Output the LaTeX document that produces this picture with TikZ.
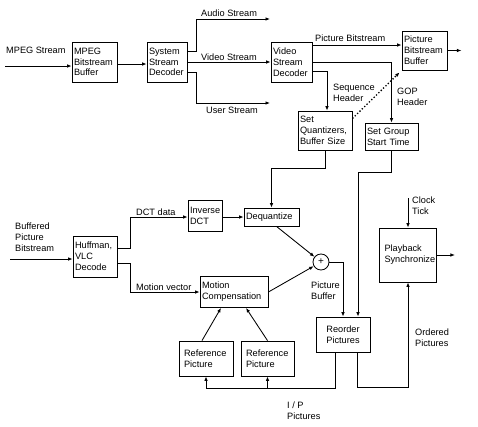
\documentclass[tikz,border=0pt]{standalone}
\usepackage{fontspec}
\setmainfont{Liberation Sans}
\usetikzlibrary{arrows.meta,positioning,calc}
\tikzset{
  box/.style={draw, line width=0.85pt, inner xsep=2pt, inner ysep=1pt, align=left, font=\fontsize{9.2}{10.8}\selectfont},
  cbox/.style={box, align=center},
  pbox/.style={box, inner xsep=5pt},
  arr/.style={line width=0.85pt, -{Latex[length=4.5pt,width=3.6pt]}},
  lbl/.style={inner sep=0pt, anchor=west, align=left, font=\fontsize{9.2}{10.8}\selectfont},
}
\begin{document}
\begin{tikzpicture}[x=1pt,y=-1pt]
\useasboundingbox[fill=white] (0,0) rectangle (478,426);
% boxes
\node[box, text width=41pt, minimum height=40pt] (mbb) at (94.5,62) {MPEG\\Bitstream\\Buffer};
\node[box, text width=36pt, minimum height=40pt] (ssd) at (167,62) {System\\Stream\\Decoder};
\node[box, text width=37pt, minimum height=40pt] (vsd) at (291.5,62) {Video\\Stream\\Decoder};
\node[box, text width=41pt, minimum height=39pt] (pbb) at (424.5,50.5) {Picture\\Bitstream\\Buffer};
\node[box, text width=50pt, minimum height=39pt] (sq) at (325,130.5) {Set\\Quantizers,\\Buffer Size};
\node[box, text width=49pt, minimum height=27pt] (sg) at (391.5,136.5) {Set Group\\Start Time};
\node[box, text width=51pt, minimum height=18pt] (deq) at (271.5,217) {Dequantize};
\node[box, text width=30pt, minimum height=31pt] (idct) at (205,216) {Inverse\\DCT};
\node[box, text width=40pt, minimum height=41pt] (huf) at (95,256.5) {Huffman,\\VLC\\Decode};
\node[box, text width=64pt, minimum height=31pt] (mc) at (234,292) {Motion\\Compensation};
\node[draw, circle, line width=0.85pt, minimum size=16pt, inner sep=0pt] (plus) at (321,262) {\fontsize{10}{10}\selectfont +};
\node[pbox, text width=44pt, minimum height=35pt] (ref1) at (206,358.5) {Reference\\Picture};
\node[pbox, text width=43pt, minimum height=35pt] (ref2) at (267.5,358.5) {Reference\\Picture};
\node[cbox, text width=50pt, minimum height=35pt] (reo) at (343,334.5) {Reorder\\Pictures};
\node[pbox, text width=47pt, minimum height=54pt] (pb) at (408,255) {Playback\\Synchronize};
% free ends
\coordinate (in1) at (5,66);
\coordinate (in2) at (10,259);
\coordinate (audio) at (270,19);
\coordinate (user) at (270,103);
\coordinate (clk) at (408,198);
% connectors
\draw[arr] (in1) -- ([yshift=-4pt]mbb.west);
\draw[arr] ([yshift=-2pt]mbb.east) -- ([yshift=-2pt]ssd.west);
\draw[arr] ([yshift=11pt]ssd.east) -- ++(9,0) |- (audio);
\draw[arr] (ssd.east) -- (vsd.west);
\draw[arr] ([yshift=-10pt]ssd.east) -- ++(9,0) |- (user);
\draw[arr] ([yshift=17pt]vsd.east) -- ([yshift=17pt]vsd.east -| pbb.west);
\draw[arr] (pbb.east) -- ++(14,0);
\draw[arr] (vsd.east) -| (sg.north);
\draw[arr] ([yshift=-9pt]vsd.east) -| ([xshift=2pt]sq.north);
\draw[line width=1.3pt, dotted, -{Latex[length=4.5pt,width=3.6pt]}] ([yshift=12pt]sq.east) -- ([xshift=-2pt,yshift=-2pt]pbb.south west);
\draw[arr] (sq.south) -- ++(0,18) -| (deq.north);
\draw[arr] (sg.south) -- ++(0,22) -| ([xshift=15pt]reo.north);
\draw[arr] (plus.east) -| (reo.north);
\draw[arr] (in2) -- ([yshift=-2.5pt]huf.west);
\draw[arr] ([yshift=8.5pt]huf.east) -- ++(13,0) |- ([yshift=-1pt]idct.west);
\draw[arr] ([yshift=-6.5pt]huf.east) -- ++(13,0) |- (mc.west);
\draw[arr] ([yshift=-1pt]idct.east) -- (deq.west);
\draw[arr] ([xshift=5pt]deq.south) -- (plus);
\draw[arr] (mc.east) -- (plus);
\draw[arr] ([xshift=-4pt]ref1.north) -- ([xshift=-13pt]mc.south);
\draw[arr] (ref2.north) -- ([xshift=12pt]mc.south);
\coordinate (bus) at ([xshift=-8pt,yshift=-36pt]reo.south);
\draw[arr] ([xshift=-8pt]reo.south) -- (bus) -| (ref1.south);
\draw[arr] (bus -| ref2.south) -- (ref2.south);
\draw[arr] ([xshift=14pt]reo.south) -- ++(0,35) -| (pb.south);
\draw[arr] (clk) -- (pb.north);
\draw[arr] (pb.east) -- ++(18,0);
% labels
\node[lbl] at (6,50) {MPEG Stream};
\node[lbl] at (201,13) {Audio Stream};
\node[lbl] at (201,57) {Video Stream};
\node[lbl] at (206,110) {User Stream};
\node[lbl] at (315,38) {Picture Bitstream};
\node[lbl] at (333,93) {Sequence\\Header};
\node[lbl] at (397,96.5) {GOP\\Header};
\node[lbl] at (136,212) {DCT data};
\node[lbl] at (136,287) {Motion vector};
\node[lbl] at (15,237.5) {Buffered\\Picture\\Bitstream};
\node[lbl] at (311,291) {Picture\\Buffer};
\node[lbl] at (412,206) {Clock\\Tick};
\node[lbl] at (415,337.5) {Ordered\\Pictures};
\node[lbl] at (287,410.5) {I / P\\Pictures};
\end{tikzpicture}
\end{document}
